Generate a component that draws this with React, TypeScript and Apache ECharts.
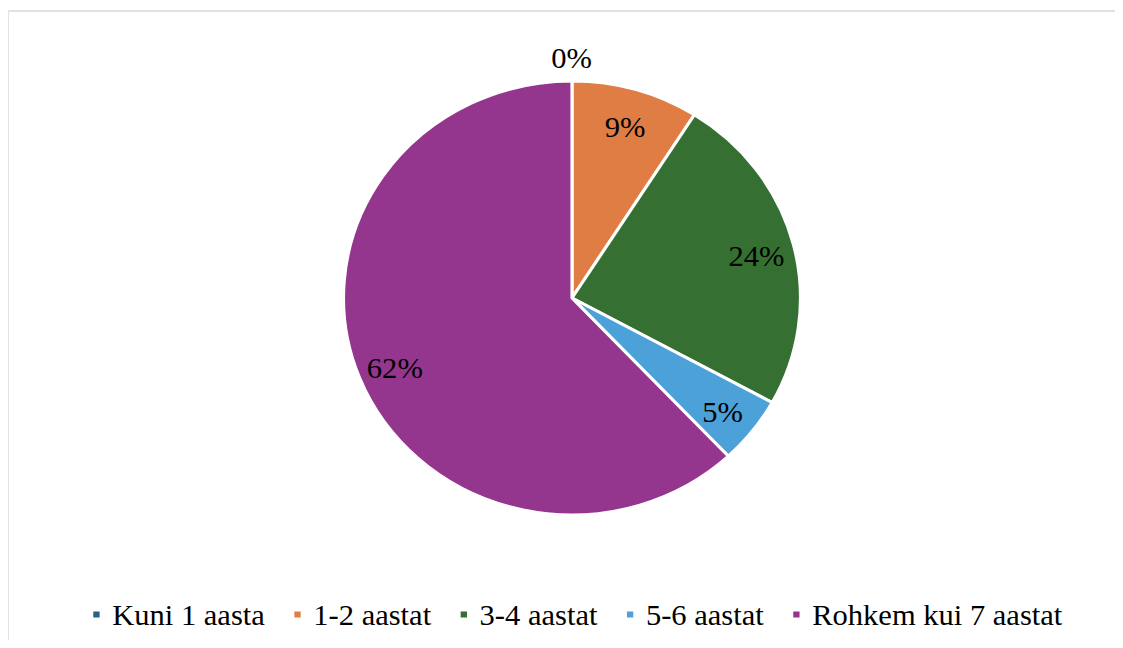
import React, { useEffect, useRef } from "react";
import * as echarts from "echarts";

const categories = ["Kuni 1 aasta", "1-2 aastat", "3-4 aastat", "5-6 aastat", "Rohkem kui 7 aastat"];
const values = [0, 9, 24, 5, 62];
const colors = ["#2a5f86", "#e07d45", "#356f32", "#4ba1d8", "#94358e"];

const STRETCH = 1.053;
const W = 1058;
const H = 632;
const FONT = "'Liberation Serif', 'Times New Roman', serif";
const FS = 29;

export default function App() {
  const ref = useRef<HTMLDivElement>(null);
  useEffect(() => {
    if (!ref.current) return;
    const chart = echarts.init(ref.current, undefined, { renderer: "svg" });
    const cx = 535.6;
    const cy = 290;
    const R = 217;
    const mainData = categories.map((name, i) => ({
      name,
      value: values[i],
      itemStyle: { color: colors[i] },
      label: { show: values[i] === 0 },
    }));
    const labelData = categories.map((name, i) => ({
      name,
      value: values[i],
      label: { show: values[i] !== 0 },
    }));
    chart.setOption({
      animation: false,
      backgroundColor: "#ffffff",
      graphic: [
        {
          type: "rect",
          shape: { x: 0, y: 3, width: 3000, height: 3000 },
          style: { fill: "none", stroke: "#e2e2e2", lineWidth: 2 },
          silent: true,
        },
      ],
      legend: {
        data: categories,
        left: 74,
        top: 587,
        icon: "rect",
        itemWidth: 8,
        itemHeight: 8,
        itemGap: 26,
        textStyle: { fontFamily: FONT, fontSize: FS, color: "#000", padding: [0, 0, 0, 6] },
      },
      series: [
        {
          type: "pie",
          center: [cx, cy],
          radius: R,
          startAngle: 90,
          clockwise: true,
          silent: true,
          itemStyle: { borderColor: "#fff", borderWidth: 3 },
          label: {
            position: "outside",
            formatter: "{d}%",
            fontFamily: FONT,
            fontSize: FS,
            color: "#000",
            offset: [24, 0],
          },
          labelLine: { show: false, length: 23, length2: 0 },
          data: mainData,
        },
        {
          type: "pie",
          center: [cx, cy],
          radius: R * 1.64,
          startAngle: 90,
          clockwise: true,
          silent: true,
          itemStyle: { color: "rgba(0,0,0,0)" },
          label: {
            position: "inside",
            formatter: "{d}%",
            fontFamily: FONT,
            fontSize: FS,
            color: "#000",
            offset: [0, 3],
          },
          labelLine: { show: false },
          data: labelData,
        },
      ],
    });
    return () => chart.dispose();
  }, []);
  return (
    <div
      ref={ref}
      style={{ width: W, height: H, transform: `scaleX(${STRETCH})`, transformOrigin: "0 0" }}
    />
  );
}
